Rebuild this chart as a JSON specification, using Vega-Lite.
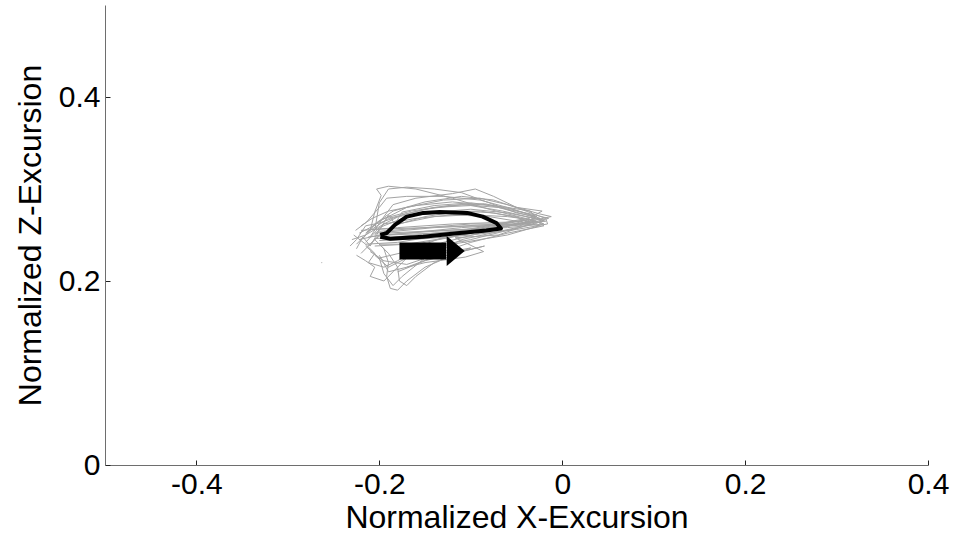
{
  "$schema": "https://vega.github.io/schema/vega-lite/v6.json",
  "autosize": {"type": "none"},
  "width": 823,
  "height": 460,
  "padding": {"left": 105, "top": 5, "right": 25, "bottom": 71},
  "background": "white",
  "config": {
    "view": {"stroke": null},
    "axis": {
      "grid": false,
      "domainColor": "#6e6e6e",
      "tickColor": "#222222",
      "tickSize": -5,
      "labelFont": "Liberation Sans",
      "titleFont": "Liberation Sans",
      "labelFontSize": 30,
      "titleFontSize": 32,
      "titleFontWeight": "normal",
      "labelColor": "black",
      "titleColor": "black",
      "labelExpr": "datum.value < 0 ? '-' + format(-datum.value, '~g') : format(datum.value, '~g')"
    }
  },
  "datasets": {
    "gray": [
      {"t": 1, "i": 1, "x": -0.205, "y": 0.255}, {"t": 1, "i": 2, "x": -0.200, "y": 0.285}, {"t": 1, "i": 3, "x": -0.190, "y": 0.300}, {"t": 1, "i": 4, "x": -0.170, "y": 0.302}, {"t": 1, "i": 5, "x": -0.140, "y": 0.300}, {"t": 1, "i": 6, "x": -0.110, "y": 0.296}, {"t": 1, "i": 7, "x": -0.080, "y": 0.285}, {"t": 1, "i": 8, "x": -0.050, "y": 0.274}, {"t": 1, "i": 9, "x": -0.028, "y": 0.270}, {"t": 1, "i": 10, "x": -0.045, "y": 0.262}, {"t": 1, "i": 11, "x": -0.090, "y": 0.255}, {"t": 1, "i": 12, "x": -0.140, "y": 0.252}, {"t": 1, "i": 13, "x": -0.190, "y": 0.250},
      {"t": 2, "i": 1, "x": -0.210, "y": 0.248}, {"t": 2, "i": 2, "x": -0.195, "y": 0.270}, {"t": 2, "i": 3, "x": -0.185, "y": 0.283}, {"t": 2, "i": 4, "x": -0.160, "y": 0.290}, {"t": 2, "i": 5, "x": -0.120, "y": 0.295}, {"t": 2, "i": 6, "x": -0.095, "y": 0.300}, {"t": 2, "i": 7, "x": -0.075, "y": 0.292}, {"t": 2, "i": 8, "x": -0.050, "y": 0.280}, {"t": 2, "i": 9, "x": -0.022, "y": 0.276}, {"t": 2, "i": 10, "x": -0.040, "y": 0.266}, {"t": 2, "i": 11, "x": -0.100, "y": 0.256}, {"t": 2, "i": 12, "x": -0.160, "y": 0.250}, {"t": 2, "i": 13, "x": -0.205, "y": 0.246},
      {"t": 3, "i": 1, "x": -0.215, "y": 0.252}, {"t": 3, "i": 2, "x": -0.200, "y": 0.265}, {"t": 3, "i": 3, "x": -0.170, "y": 0.280}, {"t": 3, "i": 4, "x": -0.130, "y": 0.288}, {"t": 3, "i": 5, "x": -0.090, "y": 0.290}, {"t": 3, "i": 6, "x": -0.060, "y": 0.283}, {"t": 3, "i": 7, "x": -0.025, "y": 0.273}, {"t": 3, "i": 8, "x": -0.012, "y": 0.270}, {"t": 3, "i": 9, "x": -0.050, "y": 0.262}, {"t": 3, "i": 10, "x": -0.110, "y": 0.258}, {"t": 3, "i": 11, "x": -0.170, "y": 0.252}, {"t": 3, "i": 12, "x": -0.212, "y": 0.248},
      {"t": 4, "i": 1, "x": -0.225, "y": 0.240}, {"t": 4, "i": 2, "x": -0.210, "y": 0.255}, {"t": 4, "i": 3, "x": -0.190, "y": 0.268}, {"t": 4, "i": 4, "x": -0.150, "y": 0.278}, {"t": 4, "i": 5, "x": -0.110, "y": 0.283}, {"t": 4, "i": 6, "x": -0.070, "y": 0.280}, {"t": 4, "i": 7, "x": -0.040, "y": 0.272}, {"t": 4, "i": 8, "x": -0.020, "y": 0.266}, {"t": 4, "i": 9, "x": -0.030, "y": 0.262}, {"t": 4, "i": 10, "x": -0.080, "y": 0.258}, {"t": 4, "i": 11, "x": -0.140, "y": 0.254}, {"t": 4, "i": 12, "x": -0.200, "y": 0.250}, {"t": 4, "i": 13, "x": -0.222, "y": 0.245},
      {"t": 5, "i": 1, "x": -0.220, "y": 0.230}, {"t": 5, "i": 2, "x": -0.205, "y": 0.245}, {"t": 5, "i": 3, "x": -0.185, "y": 0.260}, {"t": 5, "i": 4, "x": -0.150, "y": 0.270}, {"t": 5, "i": 5, "x": -0.110, "y": 0.276}, {"t": 5, "i": 6, "x": -0.075, "y": 0.274}, {"t": 5, "i": 7, "x": -0.045, "y": 0.268}, {"t": 5, "i": 8, "x": -0.030, "y": 0.262}, {"t": 5, "i": 9, "x": -0.060, "y": 0.255}, {"t": 5, "i": 10, "x": -0.100, "y": 0.245}, {"t": 5, "i": 11, "x": -0.140, "y": 0.238}, {"t": 5, "i": 12, "x": -0.170, "y": 0.225}, {"t": 5, "i": 13, "x": -0.190, "y": 0.215}, {"t": 5, "i": 14, "x": -0.205, "y": 0.228},
      {"t": 6, "i": 1, "x": -0.230, "y": 0.245}, {"t": 6, "i": 2, "x": -0.215, "y": 0.250}, {"t": 6, "i": 3, "x": -0.195, "y": 0.262}, {"t": 6, "i": 4, "x": -0.160, "y": 0.268}, {"t": 6, "i": 5, "x": -0.120, "y": 0.272}, {"t": 6, "i": 6, "x": -0.080, "y": 0.270}, {"t": 6, "i": 7, "x": -0.050, "y": 0.265}, {"t": 6, "i": 8, "x": -0.025, "y": 0.260}, {"t": 6, "i": 9, "x": -0.060, "y": 0.250}, {"t": 6, "i": 10, "x": -0.120, "y": 0.240}, {"t": 6, "i": 11, "x": -0.170, "y": 0.232}, {"t": 6, "i": 12, "x": -0.200, "y": 0.225}, {"t": 6, "i": 13, "x": -0.215, "y": 0.238},
      {"t": 7, "i": 1, "x": -0.215, "y": 0.242}, {"t": 7, "i": 2, "x": -0.200, "y": 0.258}, {"t": 7, "i": 3, "x": -0.170, "y": 0.270}, {"t": 7, "i": 4, "x": -0.130, "y": 0.275}, {"t": 7, "i": 5, "x": -0.090, "y": 0.276}, {"t": 7, "i": 6, "x": -0.050, "y": 0.270}, {"t": 7, "i": 7, "x": -0.035, "y": 0.262}, {"t": 7, "i": 8, "x": -0.070, "y": 0.250}, {"t": 7, "i": 9, "x": -0.117, "y": 0.247}, {"t": 7, "i": 10, "x": -0.086, "y": 0.232}, {"t": 7, "i": 11, "x": -0.106, "y": 0.226}, {"t": 7, "i": 12, "x": -0.150, "y": 0.220}, {"t": 7, "i": 13, "x": -0.190, "y": 0.210}, {"t": 7, "i": 14, "x": -0.200, "y": 0.228},
      {"t": 8, "i": 1, "x": -0.205, "y": 0.250}, {"t": 8, "i": 2, "x": -0.195, "y": 0.262}, {"t": 8, "i": 3, "x": -0.175, "y": 0.272}, {"t": 8, "i": 4, "x": -0.140, "y": 0.280}, {"t": 8, "i": 5, "x": -0.100, "y": 0.282}, {"t": 8, "i": 6, "x": -0.065, "y": 0.276}, {"t": 8, "i": 7, "x": -0.030, "y": 0.268}, {"t": 8, "i": 8, "x": -0.050, "y": 0.258}, {"t": 8, "i": 9, "x": -0.110, "y": 0.245}, {"t": 8, "i": 10, "x": -0.150, "y": 0.225}, {"t": 8, "i": 11, "x": -0.175, "y": 0.205}, {"t": 8, "i": 12, "x": -0.185, "y": 0.195}, {"t": 8, "i": 13, "x": -0.195, "y": 0.208}, {"t": 8, "i": 14, "x": -0.200, "y": 0.225},
      {"t": 9, "i": 1, "x": -0.210, "y": 0.255}, {"t": 9, "i": 2, "x": -0.205, "y": 0.275}, {"t": 9, "i": 3, "x": -0.198, "y": 0.293}, {"t": 9, "i": 4, "x": -0.203, "y": 0.300}, {"t": 9, "i": 5, "x": -0.190, "y": 0.303}, {"t": 9, "i": 6, "x": -0.160, "y": 0.300}, {"t": 9, "i": 7, "x": -0.120, "y": 0.290}, {"t": 9, "i": 8, "x": -0.080, "y": 0.278}, {"t": 9, "i": 9, "x": -0.040, "y": 0.268}, {"t": 9, "i": 10, "x": -0.020, "y": 0.262}, {"t": 9, "i": 11, "x": -0.060, "y": 0.258}, {"t": 9, "i": 12, "x": -0.130, "y": 0.255}, {"t": 9, "i": 13, "x": -0.195, "y": 0.252},
      {"t": 10, "i": 1, "x": -0.225, "y": 0.235}, {"t": 10, "i": 2, "x": -0.218, "y": 0.248}, {"t": 10, "i": 3, "x": -0.210, "y": 0.238}, {"t": 10, "i": 4, "x": -0.200, "y": 0.255}, {"t": 10, "i": 5, "x": -0.190, "y": 0.272}, {"t": 10, "i": 6, "x": -0.183, "y": 0.262}, {"t": 10, "i": 7, "x": -0.175, "y": 0.275}, {"t": 10, "i": 8, "x": -0.140, "y": 0.282}, {"t": 10, "i": 9, "x": -0.100, "y": 0.285}, {"t": 10, "i": 10, "x": -0.060, "y": 0.280}, {"t": 10, "i": 11, "x": -0.035, "y": 0.276}, {"t": 10, "i": 12, "x": -0.030, "y": 0.270}, {"t": 10, "i": 13, "x": -0.070, "y": 0.262}, {"t": 10, "i": 14, "x": -0.140, "y": 0.258}, {"t": 10, "i": 15, "x": -0.205, "y": 0.252},
      {"t": 11, "i": 1, "x": -0.228, "y": 0.250}, {"t": 11, "i": 2, "x": -0.215, "y": 0.240}, {"t": 11, "i": 3, "x": -0.205, "y": 0.230}, {"t": 11, "i": 4, "x": -0.212, "y": 0.220}, {"t": 11, "i": 5, "x": -0.195, "y": 0.215}, {"t": 11, "i": 6, "x": -0.180, "y": 0.222}, {"t": 11, "i": 7, "x": -0.150, "y": 0.240}, {"t": 11, "i": 8, "x": -0.110, "y": 0.255}, {"t": 11, "i": 9, "x": -0.070, "y": 0.262}, {"t": 11, "i": 10, "x": -0.040, "y": 0.266}, {"t": 11, "i": 11, "x": -0.060, "y": 0.260}, {"t": 11, "i": 12, "x": -0.110, "y": 0.250}, {"t": 11, "i": 13, "x": -0.160, "y": 0.240}, {"t": 11, "i": 14, "x": -0.200, "y": 0.240},
      {"t": 12, "i": 1, "x": -0.200, "y": 0.240}, {"t": 12, "i": 2, "x": -0.190, "y": 0.230}, {"t": 12, "i": 3, "x": -0.180, "y": 0.215}, {"t": 12, "i": 4, "x": -0.178, "y": 0.200}, {"t": 12, "i": 5, "x": -0.170, "y": 0.195}, {"t": 12, "i": 6, "x": -0.160, "y": 0.205}, {"t": 12, "i": 7, "x": -0.140, "y": 0.220}, {"t": 12, "i": 8, "x": -0.110, "y": 0.232}, {"t": 12, "i": 9, "x": -0.085, "y": 0.238}, {"t": 12, "i": 10, "x": -0.110, "y": 0.232}, {"t": 12, "i": 11, "x": -0.150, "y": 0.222}, {"t": 12, "i": 12, "x": -0.180, "y": 0.210},
      {"t": 13, "i": 1, "x": -0.232, "y": 0.238}, {"t": 13, "i": 2, "x": -0.225, "y": 0.245}, {"t": 13, "i": 3, "x": -0.215, "y": 0.260}, {"t": 13, "i": 4, "x": -0.200, "y": 0.263}, {"t": 13, "i": 5, "x": -0.180, "y": 0.270}, {"t": 13, "i": 6, "x": -0.150, "y": 0.274}, {"t": 13, "i": 7, "x": -0.100, "y": 0.278}, {"t": 13, "i": 8, "x": -0.060, "y": 0.274}, {"t": 13, "i": 9, "x": -0.030, "y": 0.268}, {"t": 13, "i": 10, "x": -0.018, "y": 0.265}, {"t": 13, "i": 11, "x": -0.050, "y": 0.262}, {"t": 13, "i": 12, "x": -0.100, "y": 0.262}, {"t": 13, "i": 13, "x": -0.150, "y": 0.258}, {"t": 13, "i": 14, "x": -0.200, "y": 0.254},
      {"t": 14, "i": 1, "x": -0.222, "y": 0.252}, {"t": 14, "i": 2, "x": -0.210, "y": 0.258}, {"t": 14, "i": 3, "x": -0.195, "y": 0.268}, {"t": 14, "i": 4, "x": -0.165, "y": 0.276}, {"t": 14, "i": 5, "x": -0.125, "y": 0.282}, {"t": 14, "i": 6, "x": -0.085, "y": 0.284}, {"t": 14, "i": 7, "x": -0.055, "y": 0.278}, {"t": 14, "i": 8, "x": -0.028, "y": 0.270}, {"t": 14, "i": 9, "x": -0.022, "y": 0.264}, {"t": 14, "i": 10, "x": -0.070, "y": 0.260}, {"t": 14, "i": 11, "x": -0.130, "y": 0.250}, {"t": 14, "i": 12, "x": -0.180, "y": 0.242}, {"t": 14, "i": 13, "x": -0.215, "y": 0.240},
      {"t": 15, "i": 1, "x": -0.225, "y": 0.228}, {"t": 15, "i": 2, "x": -0.215, "y": 0.222}, {"t": 15, "i": 3, "x": -0.205, "y": 0.215}, {"t": 15, "i": 4, "x": -0.210, "y": 0.205}, {"t": 15, "i": 5, "x": -0.195, "y": 0.200}, {"t": 15, "i": 6, "x": -0.185, "y": 0.210}, {"t": 15, "i": 7, "x": -0.170, "y": 0.225}, {"t": 15, "i": 8, "x": -0.130, "y": 0.242}, {"t": 15, "i": 9, "x": -0.090, "y": 0.252}, {"t": 15, "i": 10, "x": -0.050, "y": 0.262}, {"t": 15, "i": 11, "x": -0.030, "y": 0.265}, {"t": 15, "i": 12, "x": -0.070, "y": 0.258}, {"t": 15, "i": 13, "x": -0.120, "y": 0.248}, {"t": 15, "i": 14, "x": -0.170, "y": 0.240}, {"t": 15, "i": 15, "x": -0.205, "y": 0.238},
      {"t": 16, "i": 1, "x": -0.218, "y": 0.246}, {"t": 16, "i": 2, "x": -0.205, "y": 0.262}, {"t": 16, "i": 3, "x": -0.185, "y": 0.276}, {"t": 16, "i": 4, "x": -0.150, "y": 0.286}, {"t": 16, "i": 5, "x": -0.110, "y": 0.292}, {"t": 16, "i": 6, "x": -0.075, "y": 0.288}, {"t": 16, "i": 7, "x": -0.045, "y": 0.278}, {"t": 16, "i": 8, "x": -0.018, "y": 0.268}, {"t": 16, "i": 9, "x": -0.016, "y": 0.262}, {"t": 16, "i": 10, "x": -0.050, "y": 0.256}, {"t": 16, "i": 11, "x": -0.100, "y": 0.250}, {"t": 16, "i": 12, "x": -0.150, "y": 0.246}, {"t": 16, "i": 13, "x": -0.200, "y": 0.244},
      {"t": 17, "i": 1, "x": -0.212, "y": 0.238}, {"t": 17, "i": 2, "x": -0.200, "y": 0.250}, {"t": 17, "i": 3, "x": -0.180, "y": 0.262}, {"t": 17, "i": 4, "x": -0.140, "y": 0.270}, {"t": 17, "i": 5, "x": -0.100, "y": 0.272}, {"t": 17, "i": 6, "x": -0.060, "y": 0.270}, {"t": 17, "i": 7, "x": -0.030, "y": 0.266}, {"t": 17, "i": 8, "x": -0.020, "y": 0.260}, {"t": 17, "i": 9, "x": -0.060, "y": 0.252}, {"t": 17, "i": 10, "x": -0.100, "y": 0.242}, {"t": 17, "i": 11, "x": -0.118, "y": 0.236}, {"t": 17, "i": 12, "x": -0.140, "y": 0.228}, {"t": 17, "i": 13, "x": -0.170, "y": 0.218}, {"t": 17, "i": 14, "x": -0.195, "y": 0.222}, {"t": 17, "i": 15, "x": -0.210, "y": 0.232},
      {"t": 18, "i": 1, "x": -0.226, "y": 0.255}, {"t": 18, "i": 2, "x": -0.214, "y": 0.264}, {"t": 18, "i": 3, "x": -0.200, "y": 0.280}, {"t": 18, "i": 4, "x": -0.192, "y": 0.290}, {"t": 18, "i": 5, "x": -0.170, "y": 0.292}, {"t": 18, "i": 6, "x": -0.130, "y": 0.292}, {"t": 18, "i": 7, "x": -0.090, "y": 0.288}, {"t": 18, "i": 8, "x": -0.060, "y": 0.280}, {"t": 18, "i": 9, "x": -0.035, "y": 0.272}, {"t": 18, "i": 10, "x": -0.024, "y": 0.268}, {"t": 18, "i": 11, "x": -0.060, "y": 0.264}, {"t": 18, "i": 12, "x": -0.120, "y": 0.262}, {"t": 18, "i": 13, "x": -0.180, "y": 0.258}, {"t": 18, "i": 14, "x": -0.220, "y": 0.255},
      {"t": 19, "i": 1, "x": -0.205, "y": 0.245}, {"t": 19, "i": 2, "x": -0.195, "y": 0.235}, {"t": 19, "i": 3, "x": -0.190, "y": 0.220}, {"t": 19, "i": 4, "x": -0.192, "y": 0.205}, {"t": 19, "i": 5, "x": -0.188, "y": 0.192}, {"t": 19, "i": 6, "x": -0.180, "y": 0.190}, {"t": 19, "i": 7, "x": -0.170, "y": 0.200}, {"t": 19, "i": 8, "x": -0.150, "y": 0.215}, {"t": 19, "i": 9, "x": -0.120, "y": 0.228}, {"t": 19, "i": 10, "x": -0.100, "y": 0.236}, {"t": 19, "i": 11, "x": -0.130, "y": 0.230}, {"t": 19, "i": 12, "x": -0.170, "y": 0.215},
      {"t": 20, "i": 1, "x": -0.220, "y": 0.260}, {"t": 20, "i": 2, "x": -0.208, "y": 0.268}, {"t": 20, "i": 3, "x": -0.190, "y": 0.276}, {"t": 20, "i": 4, "x": -0.160, "y": 0.282}, {"t": 20, "i": 5, "x": -0.120, "y": 0.286}, {"t": 20, "i": 6, "x": -0.080, "y": 0.282}, {"t": 20, "i": 7, "x": -0.050, "y": 0.276}, {"t": 20, "i": 8, "x": -0.030, "y": 0.272}, {"t": 20, "i": 9, "x": -0.015, "y": 0.268}, {"t": 20, "i": 10, "x": -0.040, "y": 0.262}, {"t": 20, "i": 11, "x": -0.090, "y": 0.260}, {"t": 20, "i": 12, "x": -0.150, "y": 0.258}, {"t": 20, "i": 13, "x": -0.210, "y": 0.256}
    ],
    "mean": [
      {"i": 1, "x": -0.199, "y": 0.250}, {"i": 2, "x": -0.192, "y": 0.252}, {"i": 3, "x": -0.183, "y": 0.261}, {"i": 4, "x": -0.170, "y": 0.270},
      {"i": 5, "x": -0.152, "y": 0.274}, {"i": 6, "x": -0.134, "y": 0.275}, {"i": 7, "x": -0.104, "y": 0.274}, {"i": 8, "x": -0.087, "y": 0.270},
      {"i": 9, "x": -0.072, "y": 0.263}, {"i": 10, "x": -0.067, "y": 0.257}, {"i": 11, "x": -0.083, "y": 0.255}, {"i": 12, "x": -0.115, "y": 0.252},
      {"i": 13, "x": -0.152, "y": 0.248}, {"i": 14, "x": -0.188, "y": 0.246}, {"i": 15, "x": -0.199, "y": 0.248}
    ],
    "arrow": [{"x": -0.178, "x2": -0.127, "y": 0.2326, "xh": -0.1165}],
    "speck": [{"x": -0.263, "y": 0.220}]
  },
  "layer": [
    {
      "data": {"name": "gray"},
      "mark": {"type": "line", "color": "#a3a3a3", "strokeWidth": 1},
      "encoding": {
        "x": {"field": "x", "type": "quantitative", "scale": {"domain": [-0.5, 0.4], "nice": false, "zero": false},
              "axis": {"values": [-0.4, -0.2, 0, 0.2, 0.4], "title": "Normalized X-Excursion", "labelPadding": 9, "titlePadding": 3, "labelFlush": false}},
        "y": {"field": "y", "type": "quantitative", "scale": {"domain": [0, 0.5], "nice": false},
              "axis": {"values": [0, 0.2, 0.4], "title": "Normalized Z-Excursion", "labelPadding": 10, "titlePadding": 11}},
        "detail": {"field": "t"},
        "order": {"field": "i"}
      }
    },
    {
      "data": {"name": "speck"},
      "mark": {"type": "point", "filled": true, "color": "#a3a3a3", "size": 2},
      "encoding": {"x": {"field": "x", "type": "quantitative"}, "y": {"field": "y", "type": "quantitative"}}
    },
    {
      "data": {"name": "mean"},
      "mark": {"type": "line", "color": "black", "strokeWidth": 4, "strokeJoin": "round"},
      "encoding": {
        "x": {"field": "x", "type": "quantitative"},
        "y": {"field": "y", "type": "quantitative"},
        "order": {"field": "i"}
      }
    },
    {
      "data": {"name": "arrow"},
      "mark": {"type": "rule", "color": "black", "strokeWidth": 17, "strokeCap": "butt"},
      "encoding": {
        "x": {"field": "x", "type": "quantitative"},
        "x2": {"field": "x2"},
        "y": {"field": "y", "type": "quantitative"}
      }
    },
    {
      "data": {"name": "arrow"},
      "mark": {"type": "point", "filled": true, "color": "black", "opacity": 1, "strokeWidth": 0, "shape": "M-0.6,-1L0.6,0L-0.6,1Z", "size": 900},
      "encoding": {
        "x": {"field": "xh", "type": "quantitative"},
        "y": {"field": "y", "type": "quantitative"}
      }
    }
  ]
}
